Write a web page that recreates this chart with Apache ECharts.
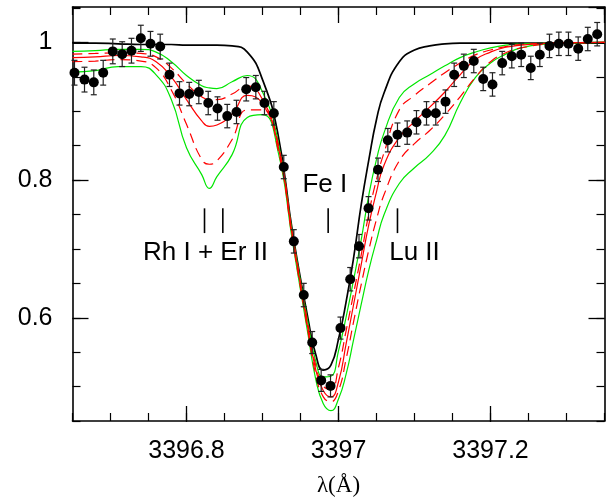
<!DOCTYPE html>
<html><head><meta charset="utf-8">
<script src="https://cdn.jsdelivr.net/npm/echarts@6/dist/echarts.min.js"></script>
<style>html,body{margin:0;padding:0;background:#fff}#c{width:606px;height:502px}</style>
</head><body><div id="c"></div>
<script>
// ---- model grid (wavelength, Angstrom) ----
const modelWave = [3396.65,3396.68,3396.71,3396.74,3396.76,3396.78,3396.80,3396.82,3396.83,3396.84,3396.86,3396.88,3396.90,3396.92,3396.94,3396.96,3396.97,3396.98,3396.99,3397.00,3397.01,3397.02,3397.03,3397.04,3397.05,3397.06,3397.08,3397.10,3397.12,3397.14,3397.16,3397.18,3397.20,3397.22,3397.24,3397.28,3397.35];
// black: synthesis without blends
const modelBlack   = [0.999,0.999,0.998,0.997,0.997,0.997,0.996,0.996,0.996,0.996,0.995,0.986,0.946,0.869,0.721,0.598,0.547,0.524,0.531,0.569,0.623,0.688,0.765,0.830,0.888,0.927,0.972,0.989,0.995,0.998,0.999,0.999,0.999,0.999,0.999,0.999,0.999];
const modelGreenHi = [0.987,0.988,0.990,0.990,0.986,0.972,0.952,0.937,0.934,0.933,0.943,0.952,0.928,0.859,0.718,0.592,0.537,0.514,0.515,0.552,0.601,0.656,0.714,0.779,0.830,0.869,0.920,0.940,0.953,0.966,0.978,0.986,0.992,0.996,0.998,0.999,1.000];
const modelRedHi   = [0.983,0.984,0.985,0.984,0.979,0.963,0.940,0.921,0.917,0.917,0.925,0.937,0.917,0.856,0.717,0.589,0.531,0.501,0.496,0.528,0.581,0.636,0.692,0.752,0.801,0.840,0.902,0.923,0.940,0.956,0.970,0.982,0.989,0.994,0.997,0.999,1.000];
const modelRed     = [0.978,0.979,0.981,0.979,0.972,0.950,0.917,0.886,0.878,0.880,0.896,0.923,0.911,0.852,0.714,0.583,0.525,0.494,0.485,0.507,0.562,0.620,0.678,0.736,0.783,0.822,0.862,0.885,0.906,0.928,0.953,0.975,0.986,0.993,0.996,0.999,1.000];
const modelRedLo   = [0.972,0.973,0.975,0.973,0.963,0.931,0.881,0.830,0.823,0.828,0.859,0.902,0.902,0.847,0.710,0.579,0.518,0.485,0.478,0.494,0.540,0.595,0.649,0.699,0.743,0.779,0.828,0.853,0.872,0.895,0.921,0.949,0.972,0.985,0.992,0.998,1.000];
const modelGreenLo = [0.957,0.959,0.965,0.965,0.953,0.917,0.847,0.808,0.788,0.805,0.837,0.891,0.895,0.844,0.707,0.575,0.511,0.475,0.465,0.482,0.518,0.569,0.620,0.670,0.712,0.750,0.795,0.818,0.837,0.865,0.912,0.949,0.970,0.983,0.992,0.998,1.000];

// ---- observed spectrum ----
const obsWave = [3396.6526,3396.6658,3396.6780,3396.6904,3396.7030,3396.7154,3396.7276,3396.7399,3396.7526,3396.7654,3396.7776,3396.7908,3396.8036,3396.8162,3396.8286,3396.8408,3396.8536,3396.8658,3396.8786,3396.8912,3396.9026,3396.9149,3396.9280,3396.9412,3396.9543,3396.9654,3396.9772,3396.9895,3397.0026,3397.0154,3397.0270,3397.0395,3397.0520,3397.0649,3397.0776,3397.0904,3397.1026,3397.1158,3397.1280,3397.1408,3397.1522,3397.1649,3397.1780,3397.1904,3397.2026,3397.2154,3397.2280,3397.2404,3397.2530,3397.2649,3397.2776,3397.2899,3397.3026,3397.3154,3397.3280,3397.3404];
const obsFlux = [0.956,0.946,0.942,0.956,0.987,0.983,0.988,1.006,0.998,0.994,0.953,0.926,0.925,0.928,0.912,0.904,0.893,0.899,0.932,0.935,0.912,0.897,0.819,0.711,0.633,0.564,0.509,0.501,0.585,0.656,0.704,0.759,0.815,0.858,0.866,0.869,0.884,0.897,0.897,0.914,0.953,0.966,0.973,0.947,0.939,0.970,0.980,0.982,0.963,0.982,0.995,0.998,0.998,0.991,1.005,1.012];
const obsErr = [0.018,0.018,0.018,0.018,0.018,0.018,0.018,0.019,0.018,0.018,0.017,0.017,0.017,0.017,0.017,0.017,0.017,0.017,0.017,0.017,0.017,0.017,0.017,0.017,0.017,0.016,0.016,0.016,0.016,0.017,0.017,0.017,0.017,0.017,0.017,0.017,0.017,0.017,0.017,0.017,0.017,0.017,0.017,0.017,0.017,0.017,0.017,0.017,0.017,0.017,0.017,0.017,0.017,0.017,0.017,0.017];

// ---- line identifications ----
const markWave = [3396.8237,3396.8478,3396.9864,3397.0776];
const markTop = 0.759, markBottom = 0.723;
const labelText = ['Rh I + Er II','Fe I','Lu II'];
const labelWave = [3396.825,3396.982,3397.100];
const labelFlux = [0.695,0.793,0.694];

const pair = (xs, ys) => xs.map((x, i) => [x, ys[i]]);
const FONT = "'Liberation Sans', Arial, Helvetica, sans-serif";
const chart = echarts.init(document.getElementById('c'), null, {renderer: 'canvas'});

const L = 72.5, W = 532, T = 7, H = 415;
const pxPerX = W / 0.70, pxPerY = H / (1.0515 - 0.45);
const majorXLeft = L + (3396.8 - 3396.65) * pxPerX;
const majorYBottom = T + (1.0515 - 0.6) * pxPerY;

const minorTick = {show: true, inside: true, length: 8, lineStyle: {color: '#000', width: 1.2}};
const majorTick = {show: true, inside: true, length: 16, lineStyle: {color: '#000', width: 1.3}};
const frame = {show: true, lineStyle: {color: '#000', width: 1.6}};

const lineSeries = (name, ys, color, width, dashed, z) => ({
  type: 'line', name, data: pair(modelWave, ys), xAxisIndex: 0, yAxisIndex: 0,
  showSymbol: false, symbol: 'none', smooth: 0.5,
  lineStyle: {color, width, type: dashed ? [10, 6] : 'solid'}, z, silent: true
});

chart.setOption({
  animation: false,
  backgroundColor: '#fff',
  grid: [
    {left: L, top: T, width: W, height: H},
    {left: L, top: T, width: W, height: majorYBottom - T},
    {left: majorXLeft, top: T, width: L + W - majorXLeft, height: H}
  ],
  xAxis: [
    {gridIndex: 0, type: 'value', position: 'bottom', min: 3396.65, max: 3397.35, interval: 0.05,
     axisLine: frame, axisTick: minorTick, axisLabel: {show: false}, splitLine: {show: false},
     name: 'λ(Å)', nameLocation: 'middle', nameGap: 53,
     nameTextStyle: {fontFamily: "'Liberation Serif', 'DejaVu Serif', serif", fontSize: 23, color: '#000'}},
    {gridIndex: 0, type: 'value', position: 'top', min: 3396.65, max: 3397.35, interval: 0.05,
     axisLine: frame, axisTick: minorTick, axisLabel: {show: false}, splitLine: {show: false}},
    {gridIndex: 1, type: 'value', show: false, min: 0, max: 1},
    {gridIndex: 2, type: 'value', position: 'bottom', min: 3396.8, max: 3397.35, interval: 0.2,
     axisLine: {show: false}, axisTick: majorTick, splitLine: {show: false},
     axisLabel: {show: true, margin: 17, showMaxLabel: false, color: '#000', fontFamily: FONT, fontSize: 25,
       formatter: v => String(Math.round(v * 10) / 10)}},
    {gridIndex: 2, type: 'value', position: 'top', min: 3396.8, max: 3397.35, interval: 0.2,
     axisLine: {show: false}, axisTick: majorTick, axisLabel: {show: false}, splitLine: {show: false}}
  ],
  yAxis: [
    {gridIndex: 0, type: 'value', position: 'left', min: 0.45, max: 1.0515, interval: 0.05,
     axisLine: frame, axisTick: minorTick, axisLabel: {show: false}, splitLine: {show: false}},
    {gridIndex: 0, type: 'value', position: 'right', min: 0.45, max: 1.0515, interval: 0.05,
     axisLine: frame, axisTick: minorTick, axisLabel: {show: false}, splitLine: {show: false}},
    {gridIndex: 1, type: 'value', position: 'left', min: 0.6, max: 1.0515, interval: 0.2,
     axisLine: {show: false}, axisTick: majorTick, splitLine: {show: false},
     axisLabel: {show: true, margin: 20, showMaxLabel: false, color: '#000', fontFamily: FONT, fontSize: 25,
       formatter: v => String(Math.round(v * 10) / 10)}},
    {gridIndex: 1, type: 'value', position: 'right', min: 0.6, max: 1.0515, interval: 0.2,
     axisLine: {show: false}, axisTick: majorTick, axisLabel: {show: false}, splitLine: {show: false}},
    {gridIndex: 2, type: 'value', show: false, min: 0, max: 1}
  ],
  series: [
    lineSeries('no blend', modelBlack, '#000000', 1.7, false, 2),
    lineSeries('green hi', modelGreenHi, '#00e600', 1.2, false, 3),
    lineSeries('green lo', modelGreenLo, '#00e600', 1.2, false, 3),
    lineSeries('red hi', modelRedHi, '#ff0000', 1.2, true, 4),
    lineSeries('red lo', modelRedLo, '#ff0000', 1.2, true, 4),
    lineSeries('red', modelRed, '#ff0000', 1.2, false, 4),
    {
      type: 'custom', name: 'errors', xAxisIndex: 0, yAxisIndex: 0, z: 5, silent: true,
      data: obsWave.map((x, i) => [x, obsFlux[i], obsErr[i]]),
      renderItem: (params, api) => {
        const x = api.value(0), y = api.value(1), e = api.value(2);
        const p1 = api.coord([x, y + e]), p2 = api.coord([x, y - e]);
        const cw = 3, st = {stroke: '#222', lineWidth: 1.2};
        return {type: 'group', children: [
          {type: 'line', shape: {x1: p1[0], y1: p1[1], x2: p2[0], y2: p2[1]}, style: st},
          {type: 'line', shape: {x1: p1[0] - cw, y1: p1[1], x2: p1[0] + cw, y2: p1[1]}, style: st},
          {type: 'line', shape: {x1: p2[0] - cw, y1: p2[1], x2: p2[0] + cw, y2: p2[1]}, style: st}
        ]};
      }
    },
    {
      type: 'scatter', name: 'observed', xAxisIndex: 0, yAxisIndex: 0, z: 6, silent: true,
      data: pair(obsWave, obsFlux), symbol: 'circle', symbolSize: 10,
      itemStyle: {color: '#000', opacity: 1}
    },
    {
      type: 'custom', name: 'marks', xAxisIndex: 0, yAxisIndex: 0, z: 6, silent: true,
      data: markWave.map(x => [x, markTop, markBottom]),
      renderItem: (params, api) => {
        const a = api.coord([api.value(0), api.value(1)]), b = api.coord([api.value(0), api.value(2)]);
        return {type: 'line', shape: {x1: a[0], y1: a[1], x2: b[0], y2: b[1]}, style: {stroke: '#000', lineWidth: 1.6}};
      }
    },
    {
      type: 'custom', name: 'labels', xAxisIndex: 0, yAxisIndex: 0, z: 6, silent: true,
      data: labelWave.map((x, i) => [x, labelFlux[i], i]),
      renderItem: (params, api) => {
        const p = api.coord([api.value(0), api.value(1)]);
        return {type: 'text', x: p[0], y: p[1], style: {
          text: labelText[api.value(2)], fill: '#000', font: '26px ' + FONT,
          textAlign: 'center', textVerticalAlign: 'middle'}};
      }
    }
  ]
});
</script></body></html>
